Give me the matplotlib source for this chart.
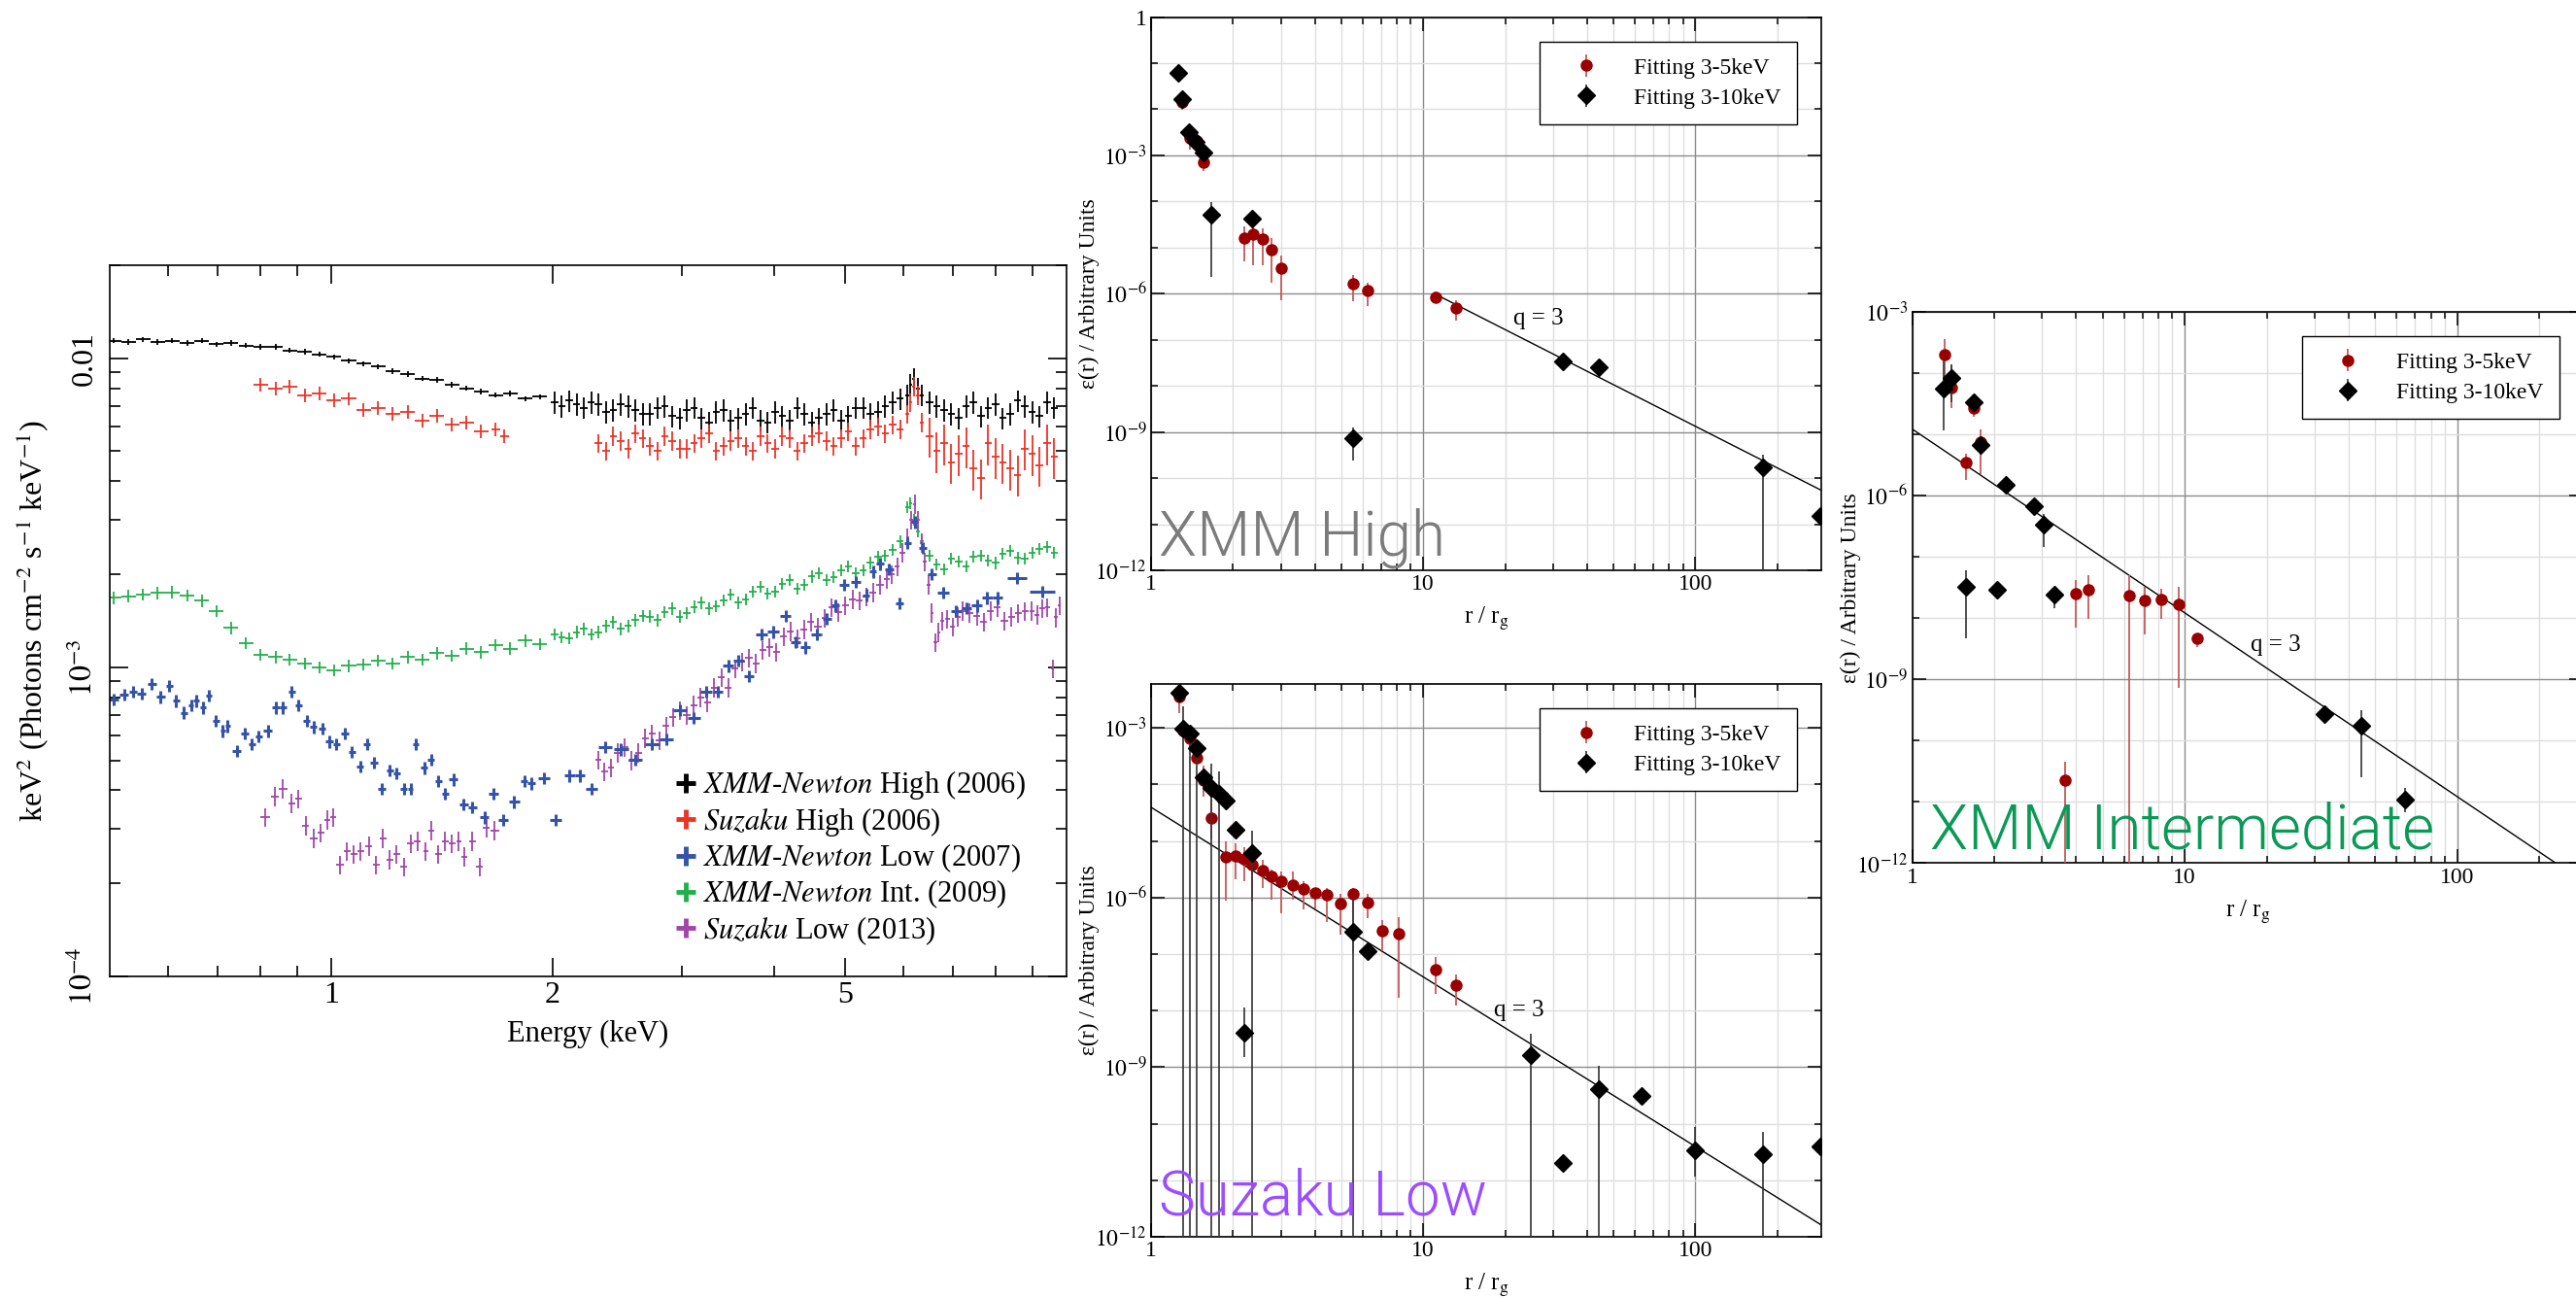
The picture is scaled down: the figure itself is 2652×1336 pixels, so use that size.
import numpy as np
import matplotlib
matplotlib.use("Agg")
import matplotlib.pyplot as plt
from matplotlib.lines import Line2D
from matplotlib.ticker import FixedLocator, FixedFormatter, FuncFormatter, NullFormatter

plt.rcParams['font.family'] = ['Liberation Serif', 'DejaVu Serif']
plt.rcParams['mathtext.fontset'] = 'stix'

# ---------------- spectra: energy (keV), keV^2 flux ----------------
grid_e = [0.506, 0.530, 0.555, 0.581, 0.608, 0.637, 0.667, 0.698, 0.731, 0.766, 0.802, 0.840, 0.879, 0.921, 0.964,
          1.009, 1.057, 1.107, 1.159, 1.213, 1.271, 1.330, 1.393, 1.459, 1.527, 1.599, 1.675, 1.753, 1.836, 1.922,
          2.013, 2.108, 2.207, 2.311, 2.420, 2.534, 2.653, 2.778, 2.909, 3.046, 3.189, 3.340, 3.497, 3.662, 3.834,
          4.015, 4.204, 4.402, 4.609, 4.826, 5.053, 5.291, 5.541, 5.801, 6.075, 6.200, 6.361, 6.660, 6.974, 7.303,
          7.647, 8.007, 8.384, 8.779, 9.193, 9.625]
# extra, finer bins above 2 keV
mid_e = [2.060, 2.157, 2.258, 2.365, 2.476, 2.593, 2.715, 2.843, 2.977, 3.117, 3.264, 3.418, 3.579, 3.747, 3.923,
         4.108, 4.302, 4.504, 4.717, 4.939, 5.171, 5.415, 5.670, 5.937, 6.137, 6.280, 6.509, 6.815, 7.137, 7.473,
         7.825, 8.194, 8.579, 8.984, 9.407]

xmm_high_f = [11.4e-3, 11.3e-3, 11.5e-3, 11.3e-3, 11.4e-3, 11.2e-3, 11.4e-3, 11.1e-3, 11.2e-3, 11.0e-3, 10.9e-3, 10.9e-3, 10.6e-3, 10.5e-3, 10.3e-3,
              10.1e-3, 9.8e-3, 9.6e-3, 9.4e-3, 9.1e-3, 8.9e-3, 8.6e-3, 8.5e-3, 8.2e-3, 8.0e-3, 7.8e-3, 7.6e-3, 7.7e-3, 7.4e-3, 7.5e-3,
              7.2e-3, 7.3e-3, 6.9e-3, 7.1e-3, 6.8e-3, 7.0e-3, 6.6e-3, 6.9e-3, 6.5e-3, 6.8e-3, 6.4e-3, 6.7e-3, 6.3e-3, 6.6e-3, 6.3e-3,
              6.7e-3, 6.3e-3, 6.6e-3, 6.4e-3, 6.8e-3, 6.5e-3, 6.9e-3, 6.7e-3, 7.2e-3, 7.6e-3, 8.6e-3, 7.6e-3, 7.0e-3, 6.6e-3, 7.0e-3,
              6.5e-3, 7.1e-3, 6.6e-3, 7.0e-3, 6.5e-3, 6.9e-3]
xmm_high_mid_f = [7.0e-3, 7.1e-3, 7.2e-3, 6.7e-3, 7.1e-3, 6.8e-3, 6.6e-3, 7.0e-3, 6.4e-3, 6.9e-3, 6.2e-3, 6.8e-3, 6.4e-3, 6.9e-3, 6.2e-3,
                  6.5e-3, 6.9e-3, 6.2e-3, 6.6e-3, 6.3e-3, 6.9e-3, 6.6e-3, 7.0e-3, 7.4e-3, 8.2e-3, 8.0e-3, 7.2e-3, 6.8e-3, 6.4e-3, 7.2e-3,
                  6.9e-3, 6.4e-3, 7.3e-3, 6.7e-3, 7.2e-3]

xmm_int_f = [1.68e-3, 1.70e-3, 1.72e-3, 1.74e-3, 1.75e-3, 1.71e-3, 1.64e-3, 1.52e-3, 1.34e-3, 1.20e-3, 1.10e-3, 1.08e-3, 1.06e-3, 1.03e-3, 1.00e-3,
             0.98e-3, 1.01e-3, 1.02e-3, 1.05e-3, 1.03e-3, 1.08e-3, 1.06e-3, 1.11e-3, 1.09e-3, 1.15e-3, 1.12e-3, 1.18e-3, 1.15e-3, 1.22e-3, 1.19e-3,
             1.28e-3, 1.24e-3, 1.33e-3, 1.30e-3, 1.40e-3, 1.36e-3, 1.47e-3, 1.42e-3, 1.55e-3, 1.50e-3, 1.62e-3, 1.58e-3, 1.72e-3, 1.66e-3, 1.82e-3,
             1.76e-3, 1.92e-3, 1.85e-3, 2.02e-3, 1.96e-3, 2.12e-3, 2.06e-3, 2.28e-3, 2.40e-3, 3.30e-3, 3.00e-3, 2.55e-3, 2.15e-3, 2.25e-3, 2.12e-3,
             2.30e-3, 2.18e-3, 2.38e-3, 2.25e-3, 2.42e-3, 2.35e-3]
xmm_int_mid_f = [1.25e-3, 1.30e-3, 1.28e-3, 1.36e-3, 1.33e-3, 1.42e-3, 1.46e-3, 1.51e-3, 1.46e-3, 1.57e-3, 1.55e-3, 1.65e-3, 1.62e-3, 1.76e-3, 1.73e-3,
                 1.86e-3, 1.80e-3, 1.97e-3, 1.92e-3, 2.06e-3, 2.02e-3, 2.18e-3, 2.30e-3, 2.55e-3, 3.40e-3, 2.75e-3, 2.30e-3, 2.08e-3, 2.20e-3, 2.28e-3,
                 2.22e-3, 2.33e-3, 2.26e-3, 2.35e-3, 2.45e-3]

suz_high_e = [0.802, 0.840, 0.879, 0.921, 0.964, 1.009, 1.057, 1.107, 1.159, 1.213, 1.271, 1.330, 1.393, 1.459, 1.527, 1.599, 1.675, 1.720,
              2.311, 2.420, 2.534, 2.653, 2.778, 2.909, 3.046, 3.189, 3.340, 3.497, 3.662, 3.834,
              4.015, 4.204, 4.402, 4.609, 4.826, 5.053, 5.291, 5.541, 5.801, 6.075, 6.200, 6.361, 6.660, 6.974, 7.303,
              7.647, 8.007, 8.384, 8.779, 9.193, 9.625,
              2.365, 2.476, 2.593, 2.715, 2.843, 2.977, 3.117, 3.264, 3.418, 3.579, 3.747, 3.923, 4.108, 4.302, 4.504,
              4.717, 4.939, 5.171, 5.415, 5.670, 5.937, 6.137, 6.280, 6.509, 6.815, 7.137, 7.473, 7.825, 8.194, 8.579,
              8.984, 9.407]
suz_high_f = [8.2e-3, 8.0e-3, 8.1e-3, 7.6e-3, 7.7e-3, 7.3e-3, 7.4e-3, 6.8e-3, 6.9e-3, 6.6e-3, 6.7e-3, 6.3e-3, 6.5e-3, 6.1e-3, 6.2e-3, 5.8e-3, 5.9e-3, 5.6e-3,
              5.3e-3, 5.6e-3, 5.1e-3, 5.5e-3, 5.0e-3, 5.4e-3, 5.1e-3, 5.5e-3, 5.0e-3, 5.4e-3, 5.2e-3, 5.6e-3,
              5.1e-3, 5.5e-3, 5.3e-3, 5.7e-3, 5.2e-3, 5.8e-3, 5.5e-3, 6.0e-3, 6.1e-3, 6.6e-3, 8.1e-3, 6.2e-3, 5.0e-3, 4.6e-3, 5.2e-3,
              4.1e-3, 4.8e-3, 4.4e-3, 5.1e-3, 4.5e-3, 4.8e-3,
              5.0e-3, 5.4e-3, 5.7e-3, 5.2e-3, 5.6e-3, 5.1e-3, 5.3e-3, 5.7e-3, 5.2e-3, 5.5e-3, 5.0e-3, 5.3e-3, 5.6e-3, 5.0e-3, 5.6e-3,
              5.4e-3, 5.5e-3, 5.2e-3, 5.9e-3, 5.7e-3, 5.9e-3, 7.2e-3, 7.6e-3, 5.6e-3, 5.3e-3, 4.9e-3, 4.4e-3, 5.3e-3, 4.6e-3, 4.2e-3,
              4.9e-3, 5.3e-3]

xmm_low_e = [0.506, 0.523, 0.538, 0.552, 0.570, 0.586, 0.602, 0.615, 0.631, 0.645,
             0.656, 0.670, 0.682, 0.697, 0.712, 0.723, 0.744, 0.763, 0.780, 0.797,
             0.820, 0.841, 0.860, 0.884, 0.903, 0.927, 0.947, 0.972, 0.994, 1.017,
             1.044, 1.067, 1.095, 1.119, 1.144, 1.171, 1.202, 1.228, 1.255, 1.282,
             1.305, 1.339, 1.368, 1.398, 1.428, 1.466, 1.514, 1.557, 1.616, 1.663,
             1.713, 1.774, 1.832, 1.872, 1.946, 2.020, 2.109, 2.178, 2.259, 2.360,
             2.480, 2.589, 2.733, 2.854, 2.980, 3.112, 3.236, 3.357, 3.467, 3.581,
             3.700, 3.846, 3.990, 4.148, 4.285, 4.417, 4.572, 4.723, 4.847, 4.985,
             5.171, 5.342, 5.459, 5.579, 5.738, 5.927, 6.081, 6.215, 6.378, 6.560,
             6.806, 7.076, 7.310, 7.551, 7.800, 8.057, 8.560, 9.272]
xmm_low_f = [7.86e-4, 8.17e-4, 8.33e-4, 8.23e-4, 8.83e-4, 8.01e-4, 8.72e-4, 7.79e-4, 7.13e-4, 7.55e-4,
             7.79e-4, 7.41e-4, 8.10e-4, 6.72e-4, 6.22e-4, 6.46e-4, 5.36e-4, 6.10e-4, 5.64e-4, 5.98e-4,
             6.22e-4, 7.41e-4, 7.41e-4, 8.33e-4, 7.55e-4, 6.72e-4, 6.41e-4, 6.34e-4, 5.75e-4, 5.64e-4,
             6.10e-4, 5.32e-4, 4.77e-4, 5.64e-4, 4.92e-4, 4.05e-4, 4.64e-4, 4.55e-4, 4.05e-4, 4.05e-4,
             5.64e-4, 4.73e-4, 5.02e-4, 4.29e-4, 3.90e-4, 4.34e-4, 3.60e-4, 3.53e-4, 3.27e-4, 3.90e-4,
             3.21e-4, 3.67e-4, 4.29e-4, 4.21e-4, 4.38e-4, 3.21e-4, 4.46e-4, 4.46e-4, 4.05e-4, 5.53e-4,
             5.42e-4, 5.02e-4, 5.64e-4, 5.86e-4, 7.27e-4, 6.85e-4, 8.33e-4, 8.33e-4, 1.012e-3, 1.052e-3,
             9.36e-4, 1.278e-3, 1.303e-3, 1.465e-3, 1.205e-3, 1.160e-3, 1.278e-3, 1.437e-3, 1.584e-3, 1.851e-3,
             1.887e-3, 1.712e-3, 2.040e-3, 2.163e-3, 2.080e-3, 1.615e-3, 2.527e-3, 2.954e-3, 2.431e-3, 2.001e-3,
             1.746e-3, 1.523e-3, 1.553e-3, 1.584e-3, 1.679e-3, 1.679e-3, 1.947e-3, 1.759e-3]

suz_low_e = [0.814, 0.838, 0.860, 0.884, 0.903, 0.923, 0.947, 0.968, 0.989, 1.006, 1.028, 1.051, 1.074, 1.097, 1.126,
             1.151, 1.176, 1.202, 1.228, 1.255, 1.282, 1.310, 1.345, 1.368, 1.398, 1.428, 1.459, 1.492, 1.518, 1.557,
             1.592, 1.626, 1.669,
             2.309, 2.400, 2.507, 2.618, 2.733, 2.854, 2.980, 3.112, 3.249, 3.393, 3.543, 3.700, 3.863, 4.034, 4.212,
             4.398, 4.592, 4.795, 5.006, 5.228, 5.459, 5.700, 5.888, 6.081, 6.215, 6.351, 6.490, 6.631, 6.776, 7.000,
             7.231, 7.551, 7.885, 8.233, 8.597, 8.978, 9.272, 9.577, 9.783,
             2.354, 2.453, 2.562, 2.675, 2.793, 2.917, 3.045, 3.180, 3.320, 3.467, 3.621, 3.781, 3.948, 4.122, 4.304,
             4.494, 4.693, 4.899, 5.116, 5.342, 5.578, 5.793, 5.984, 6.148, 6.283, 6.420, 6.560, 6.703, 6.887, 7.114,
             7.389, 7.716, 8.057, 8.413, 8.786, 9.124, 9.423, 9.680]
suz_low_f = [3.27e-4, 3.82e-4, 4.05e-4, 3.63e-4, 3.75e-4, 3.08e-4, 2.80e-4, 2.91e-4, 3.21e-4, 3.27e-4, 2.30e-4, 2.54e-4, 2.49e-4, 2.54e-4, 2.64e-4,
             2.30e-4, 2.80e-4, 2.39e-4, 2.49e-4, 2.26e-4, 2.69e-4, 2.74e-4, 2.54e-4, 2.97e-4, 2.49e-4, 2.74e-4, 2.69e-4, 2.74e-4, 2.44e-4, 2.74e-4,
             2.26e-4, 3.02e-4, 2.97e-4,
             5.02e-4, 4.73e-4, 5.50e-4, 5.30e-4, 6.10e-4, 6.46e-4, 7.27e-4, 7.55e-4, 7.70e-4, 9.30e-4, 9.92e-4, 1.073e-3, 1.137e-3, 1.120e-3, 1.310e-3,
             1.329e-3, 1.350e-3, 1.560e-3, 1.584e-3, 1.647e-3, 1.746e-3, 1.924e-3, 2.120e-3, 2.630e-3, 3.380e-3, 2.530e-3, 1.851e-3, 1.205e-3, 1.409e-3, 1.355e-3,
             1.523e-3, 1.465e-3, 1.523e-3, 1.409e-3, 1.494e-3, 1.523e-3, 1.553e-3, 9.92e-4, 1.584e-3,
             4.6e-4, 5.3e-4, 5.0e-4, 5.9e-4, 5.8e-4, 6.9e-4, 7.0e-4, 8.0e-4, 8.6e-4, 8.6e-4, 1.04e-3, 1.03e-3, 1.16e-3, 1.26e-3, 1.24e-3,
             1.40e-3, 1.44e-3, 1.51e-3, 1.66e-3, 1.69e-3, 1.85e-3, 2.00e-3, 2.35e-3, 3.00e-3, 3.00e-3, 2.20e-3, 1.50e-3, 1.30e-3, 1.43e-3, 1.46e-3,
             1.50e-3, 1.40e-3, 1.56e-3, 1.46e-3, 1.52e-3, 1.48e-3, 1.56e-3, 1.45e-3]

spec_labels = [r'$\mathit{XMM}$-$\mathit{Newton}$ High (2006)', r'$\mathit{Suzaku}$ High (2006)',
               r'$\mathit{XMM}$-$\mathit{Newton}$ Low (2007)', r'$\mathit{XMM}$-$\mathit{Newton}$ Int. (2009)',
               r'$\mathit{Suzaku}$ Low (2013)']
spec_colors = ['black', '#ee3326', '#3553a8', '#22b04b', '#a146a8']

# ---------------- emissivity profiles: r / r_g, eps, lower, upper ----------------
high_r35 = [1.30, 1.386, 1.472, 1.558, 2.194, 2.369, 2.567, 2.782, 3.016, 5.54, 6.25, 11.08, 13.18]
high_e35 = [1.44e-2, 2.43e-3, 2.08e-3, 6.99e-4, 1.63e-5, 1.94e-5, 1.51e-5, 9.0e-6, 3.66e-6, 1.66e-6, 1.16e-6, 8.5e-7, 4.89e-7]
high_lo35 = [9.8e-3, 1.32e-3, 1.59e-3, 4.58e-4, 5.06e-6, 4.18e-6, 4.18e-6, 1.76e-6, 7.16e-7, 6.76e-7, 5.37e-7, 6.15e-7, 2.59e-7]
high_hi35 = [1.93e-2, 3.12e-3, 2.6e-3, 1.0e-3, 2.84e-5, 2.84e-5, 2.58e-5, 1.6e-5, 6.75e-6, 2.59e-6, 1.76e-6, 1.09e-6, 7.16e-7]
high_r310 = [1.263, 1.30, 1.375, 1.466, 1.558, 1.661, 2.359, 5.54, 32.5, 44.3, 176.5, 288]
high_e310 = [6.09e-2, 1.65e-2, 3.24e-3, 1.93e-3, 1.13e-3, 5.05e-5, 4.34e-5, 7.49e-10, 3.46e-8, 2.55e-8, 1.71e-10, 1.53e-11]
high_lo310 = [6.09e-2, 1.65e-2, 3.24e-3, 1.93e-3, 1.13e-3, 2.35e-6, 4.34e-5, 2.37e-10, 3.46e-8, 2.55e-8, 1e-13, 1.53e-11]
high_hi310 = [6.09e-2, 1.65e-2, 3.24e-3, 1.93e-3, 1.13e-3, 9.9e-5, 4.34e-5, 1.28e-9, 3.46e-8, 2.55e-8, 3.16e-10, 1.53e-11]

slow_r35 = [1.274, 1.31, 1.386, 1.472, 1.564, 1.661, 1.890, 2.049, 2.194, 2.359, 2.567, 2.782, 3.016, 3.31, 3.63,
            4.00, 4.44, 4.95, 5.54, 6.25, 7.09, 8.16, 11.08, 13.18]
slow_e35 = [3.58e-3, 8.76e-4, 6.61e-4, 2.98e-4, 1.18e-4, 2.56e-5, 5.14e-6, 5.40e-6, 4.73e-6, 3.81e-6, 3.02e-6, 2.32e-6, 1.90e-6, 1.66e-6, 1.41e-6,
            1.21e-6, 1.10e-6, 7.88e-7, 1.16e-6, 8.02e-7, 2.60e-7, 2.28e-7, 5.38e-8, 2.77e-8]
slow_lo35 = [1.84e-3, 8.76e-4, 6.61e-4, 2.32e-4, 6.17e-5, 1.08e-5, 8.7e-7, 2.06e-6, 1.9e-6, 8.3e-7, 1.48e-6, 9.1e-7, 5.3e-7, 9.1e-7, 6.25e-7,
             6.5e-7, 3.62e-7, 2.2e-7, 1.04e-7, 4.28e-7, 1.14e-7, 1.69e-8, 1.99e-8, 1.21e-8]
slow_hi35 = [1e-2, 8.76e-4, 6.61e-4, 3.8e-4, 2.14e-4, 5.69e-5, 9.97e-6, 9.18e-6, 7.8e-6, 5.14e-6, 4.7e-6, 3.13e-6, 2.88e-6, 2.88e-6, 1.9e-6,
             1.48e-6, 1.48e-6, 1.16e-6, 1.48e-6, 1.16e-6, 3.94e-7, 4.49e-7, 8.85e-8, 4.4e-8]
slow_r310 = [1.274, 1.31, 1.386, 1.472, 1.564, 1.661, 1.779, 1.890, 2.049, 2.194, 2.359, 5.54, 6.25,
             24.9, 32.5, 44.3, 63.7, 100, 176.5, 288]
slow_e310 = [4.09e-3, 9.84e-4, 8.06e-4, 4.30e-4, 1.35e-4, 8.59e-5, 6.93e-5, 5.23e-5, 1.56e-5, 4.12e-9, 6.07e-6, 2.47e-7, 1.14e-7,
             1.60e-9, 1.98e-11, 4.05e-10, 3.05e-10, 3.37e-11, 2.85e-11, 3.97e-11]
slow_lo310 = [4.09e-3, 1e-13, 1e-13, 1e-13, 1.35e-4, 1e-13, 1e-13, 5.23e-5, 1.56e-5, 1.5e-9, 1e-13, 1e-13, 8.85e-8,
              1e-13, 1.98e-11, 1e-13, 3.05e-10, 1.15e-11, 1e-13, 3.97e-11]
slow_hi310 = [4.09e-3, 2.37e-3, 1.03e-3, 4.30e-4, 1.35e-4, 2.32e-4, 1.67e-4, 5.23e-5, 1.56e-5, 1.11e-8, 1.51e-5, 9.0e-7, 1.4e-7,
              3.92e-9, 1.98e-11, 1.04e-9, 3.05e-10, 8.65e-11, 7.1e-11, 3.97e-11]

int_r35 = [1.311, 1.393, 1.572, 1.677, 1.782, 3.64, 4.00, 4.44, 6.26, 7.12, 8.20, 9.49, 11.15]
int_e35 = [1.99e-4, 5.86e-5, 3.43e-6, 2.72e-5, 7.38e-6, 2.24e-11, 2.49e-8, 2.93e-8, 2.30e-8, 1.92e-8, 1.98e-8, 1.69e-8, 4.65e-9]
int_lo35 = [8.95e-5, 2.64e-5, 1.79e-6, 1.90e-5, 2.28e-6, 1e-13, 6.98e-9, 9.68e-9, 1e-13, 5.47e-9, 9.68e-9, 7.36e-10, 3.36e-9]
int_hi35 = [3.58e-4, 1.35e-4, 4.91e-6, 3.37e-5, 1.22e-5, 4.46e-11, 4.2e-8, 4.94e-8, 4.94e-8, 3.29e-8, 3.03e-8, 3.29e-8, 5.47e-9]
int_r310 = [1.305, 1.393, 1.572, 1.677, 1.782, 2.053, 2.207, 2.790, 3.04, 3.33, 32.7, 44.6, 64.1]
int_e310 = [5.48e-5, 8.40e-5, 3.29e-8, 3.37e-5, 6.59e-6, 2.88e-8, 1.52e-6, 6.71e-7, 3.33e-7, 2.45e-8, 2.68e-10, 1.73e-10, 1.11e-11]
int_lo310 = [1.17e-5, 3.37e-5, 4.65e-9, 3.37e-5, 5.6e-6, 2.88e-8, 1.52e-6, 6.71e-7, 1.43e-7, 1.46e-8, 2.68e-10, 2.52e-11, 6.82e-12]
int_hi310 = [1.58e-4, 1.41e-4, 6.01e-8, 3.37e-5, 7.7e-6, 2.88e-8, 1.52e-6, 6.71e-7, 5.01e-7, 3.29e-8, 2.68e-10, 3.16e-10, 1.67e-11]

# q = 3 power law: start radius, normalisation at r = 1
q_index = 3
high_q = (11.0, 1.331e-3)
slow_q = (1.0, 3.94e-5)
int_q = (1.0, 1.22e-5)


def bin_halfwidth(e):
    le = np.log10(e)
    d = np.diff(le)
    half = np.minimum(np.r_[d[0], d], np.r_[d, d[-1]]) / 2
    return [e - e * 10 ** -half, e * 10 ** half - e]


def spectrum(ax, e, f, rel, color, lw):
    e = np.asarray(e)
    f = np.asarray(f)
    order = np.argsort(e)
    e, f = e[order], f[order]
    rel = np.broadcast_to(np.asarray(rel), e.shape) if np.ndim(rel) == 0 else np.asarray(rel)[order]
    ax.errorbar(e, f, xerr=bin_halfwidth(e), yerr=f * rel, fmt='none',
                ecolor=color, elinewidth=lw, capsize=0)


fig = plt.figure(figsize=(26.52, 13.36), dpi=100)

# ---------------- left: spectra ----------------
ax0 = fig.add_axes([0.0426, 0.2478, 0.3714, 0.5479])
black_e = np.r_[grid_e, mid_e]
spectrum(ax0, black_e, np.r_[xmm_high_f, xmm_high_mid_f], np.where(black_e < 2, 0.02, 0.08), spec_colors[0], 1.3)
se = np.asarray(suz_high_e)
spectrum(ax0, se, suz_high_f, np.where(se > 6.5, 0.15, np.where(se > 2, 0.07, 0.05)), spec_colors[1], 1.3)
spectrum(ax0, black_e, np.r_[xmm_int_f, xmm_int_mid_f], 0.045, spec_colors[3], 1.3)
spectrum(ax0, suz_low_e, suz_low_f, 0.07, spec_colors[4], 1.3)
spectrum(ax0, xmm_low_e, xmm_low_f, 0.045, spec_colors[2], 2.2)

ax0.set_xscale('log')
ax0.set_yscale('log')
ax0.set_xlim(0.5, 10)
ax0.set_ylim(1e-4, 0.02)
ax0.xaxis.set_major_locator(FixedLocator([1, 2, 5]))
ax0.xaxis.set_major_formatter(FixedFormatter(['1', '2', '5']))
ax0.xaxis.set_minor_locator(FixedLocator([0.6, 0.7, 0.8, 0.9, 3, 4, 6, 7, 8, 9]))
ax0.xaxis.set_minor_formatter(NullFormatter())
ax0.yaxis.set_major_locator(FixedLocator([1e-4, 1e-3, 1e-2]))
ax0.yaxis.set_major_formatter(FixedFormatter([r'$10^{-4}$', r'$10^{-3}$', '0.01']))
ax0.yaxis.set_minor_locator(FixedLocator([k * 1e-4 for k in range(2, 10)] + [k * 1e-3 for k in range(2, 10)] + [2e-2]))
ax0.yaxis.set_minor_formatter(NullFormatter())
ax0.tick_params(which='both', direction='in', top=True, right=True, labelsize=23, width=1.2)
ax0.tick_params(which='major', length=14)
ax0.tick_params(which='minor', length=8)
ax0.tick_params(axis='y', labelrotation=90, pad=8)
for t in ax0.get_yticklabels():
    t.set_va('center')
for s in ax0.spines.values():
    s.set_linewidth(1.2)
ax0.set_xlabel('Energy (keV)', fontsize=22, labelpad=8)
ax0.set_ylabel(r'keV$^2$ (Photons cm$^{-2}$ s$^{-1}$ keV$^{-1}$)', fontsize=23, labelpad=14)

handles = [Line2D([], [], ls='none', marker='+', markersize=15, mew=3.5, color=c) for c in spec_colors]
ax0.legend(handles, spec_labels, loc='lower right', bbox_to_anchor=(0.982, 0.008), frameon=False,
           fontsize=22, handlelength=0.6, handletextpad=0.3, labelspacing=0.12, borderpad=0.3)


# ---------------- right: emissivity profiles ----------------
def yfmt(v, pos):
    if v == 1:
        return '1'
    return r'$10^{%d}$' % int(round(np.log10(v)))


def emissivity(rect, ylim, r35, e35, lo35, hi35, r310, e310, lo310, hi310, q, name, name_color, name_xy):
    ax = fig.add_axes(rect)
    ax.set_xscale('log')
    ax.set_yscale('log')
    r0, norm = q
    rl = np.array([r0, 400.0])
    ax.plot(rl, norm * rl ** -q_index, color='black', lw=1.0, zorder=3)
    e35 = np.asarray(e35)
    e310 = np.asarray(e310)
    ax.errorbar(r35, e35, yerr=[e35 - np.asarray(lo35), np.asarray(hi35) - e35], fmt='o', color='#9a0000',
                ms=8, ecolor='#c45a5a', elinewidth=1.3, capsize=0, label='Fitting 3-5keV', zorder=4)
    ax.errorbar(r310, e310, yerr=[e310 - np.asarray(lo310), np.asarray(hi310) - e310], fmt='D', color='black',
                ms=9, ecolor='#333333', elinewidth=1.2, capsize=0, label='Fitting 3-10keV', zorder=5)
    ax.set_xlim(1, 290)
    ax.set_ylim(*ylim)
    ax.yaxis.set_major_locator(FixedLocator([1e-12, 1e-9, 1e-6, 1e-3, 1]))
    ax.yaxis.set_minor_locator(FixedLocator([10.0 ** k for k in range(-12, 1)]))
    ax.yaxis.set_major_formatter(FuncFormatter(yfmt))
    ax.yaxis.set_minor_formatter(NullFormatter())
    ax.xaxis.set_major_formatter(FuncFormatter(lambda v, p: '%g' % v))
    ax.xaxis.set_minor_formatter(NullFormatter())
    ax.grid(True, which='major', color='#8c8c8c', lw=1.0)
    ax.grid(True, which='minor', color='#dedede', lw=1.0)
    ax.set_axisbelow(True)
    ax.tick_params(which='both', direction='in', top=True, right=True, labelsize=17, width=1.1, pad=3)
    ax.tick_params(which='major', length=10)
    ax.tick_params(which='minor', length=5)
    for s in ax.spines.values():
        s.set_linewidth(1.2)
    ax.set_xlabel(r'r / r$_\mathrm{g}$', fontsize=18, labelpad=8)
    ax.set_ylabel('ε(r) / Arbitrary Units', fontsize=17)
    ax.yaxis.set_label_coords(-0.076, 0.5)
    ax.legend(loc='upper right', bbox_to_anchor=(0.964, 0.956), fontsize=17, frameon=True, fancybox=False,
              edgecolor='black', framealpha=1, borderpad=0.7, handlelength=2.6, handletextpad=0.8,
              borderaxespad=0, labelspacing=0.4)
    ax.get_legend().get_frame().set_linewidth(1.0)
    ax.text(name_xy[0], name_xy[1], name, transform=ax.transAxes, fontsize=46, color=name_color,
            family=['Roboto', 'Liberation Sans'], fontweight=300, ha='left', va='baseline', zorder=6)
    return ax


ax1 = emissivity([0.4468, 0.5606, 0.2602, 0.4263], (1e-12, 1),
                 high_r35, high_e35, high_lo35, high_hi35, high_r310, high_e310, high_lo310, high_hi310,
                 high_q, 'XMM High', '#7b7b7b', (0.012, 0.028))
ax1.text(26.5, 2.85e-7, 'q = 3', fontsize=18, ha='center', va='center')

ax2 = emissivity([0.4468, 0.0472, 0.2602, 0.4260], (1e-12, 6e-3),
                 slow_r35, slow_e35, slow_lo35, slow_hi35, slow_r310, slow_e310, slow_lo310, slow_hi310,
                 slow_q, 'Suzaku Low', '#9b4dff', (0.012, 0.040))
ax2.text(22.5, 9.9e-9, 'q = 3', fontsize=18, ha='center', va='center')

ax3 = emissivity([0.7423, 0.3350, 0.2605, 0.4248], (1e-12, 1e-3),
                 int_r35, int_e35, int_lo35, int_hi35, int_r310, int_e310, int_lo310, int_hi310,
                 int_q, 'XMM Intermediate', '#0a9a55', (0.027, 0.027))
ax3.text(21.5, 3.64e-9, 'q = 3', fontsize=18, ha='center', va='center')

fig.savefig('out.png', dpi=100)
